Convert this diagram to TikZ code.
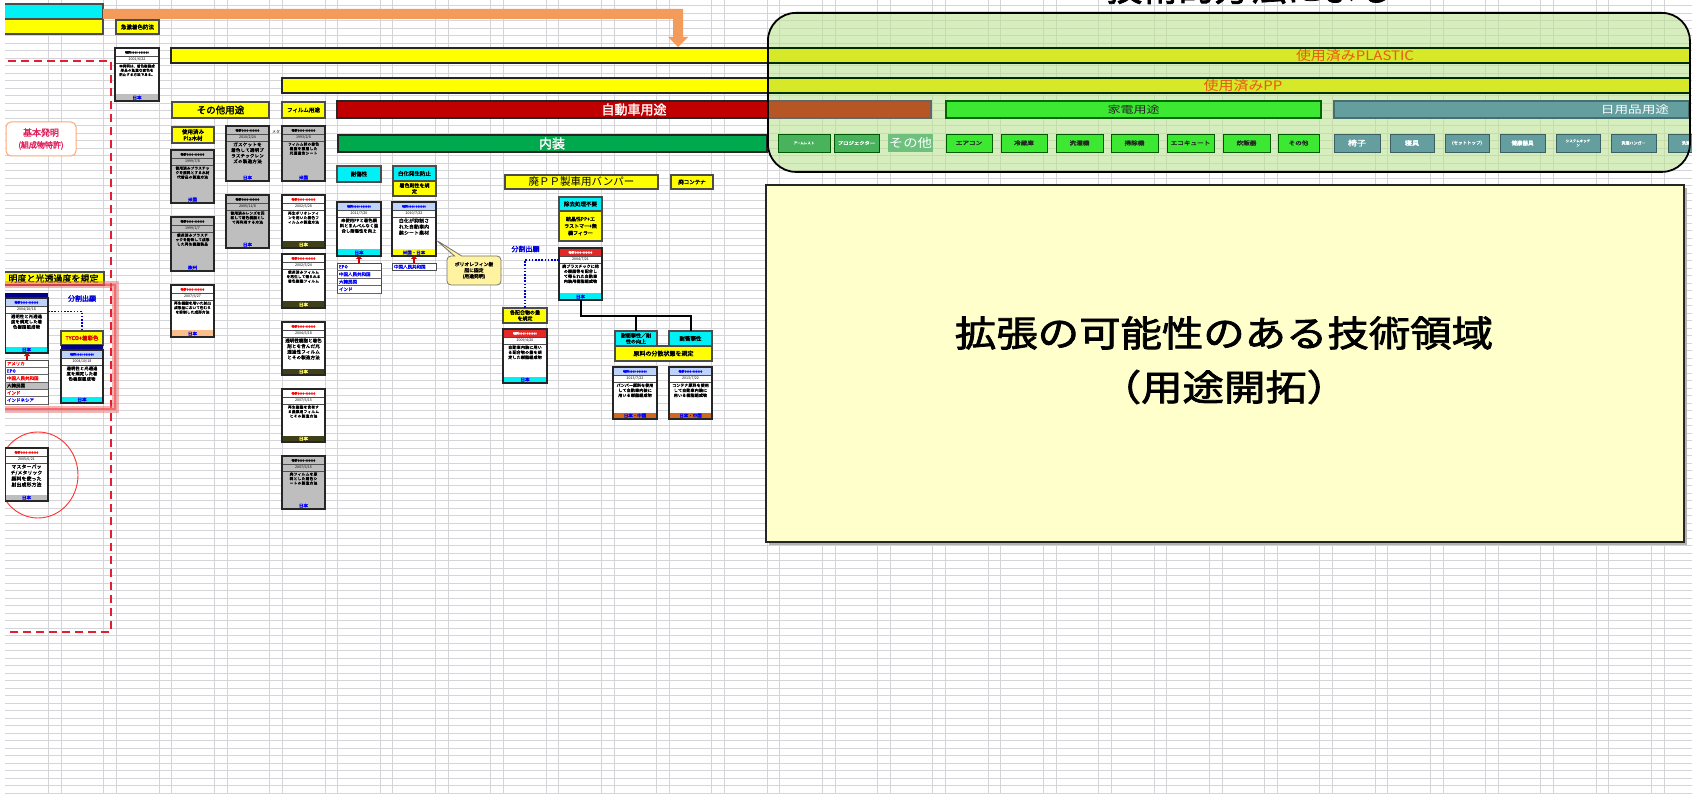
\documentclass[tikz,border=0pt]{standalone}
\usepackage{graphicx}
\usepackage{fontspec}
\setmainfont{Noto Sans CJK JP}
\newfontfamily\jpb[FakeBold=2]{Noto Sans CJK JP}
\XeTeXlinebreaklocale "ja"
\XeTeXlinebreakskip=0pt plus 0.5pt
\usetikzlibrary{calc,arrows.meta,shapes.callouts}
\newcommand\fs[2]{\fontsize{#1}{#2}\selectfont}
\newcommand\sx[2]{\scalebox{#1}[1]{#2}}
\definecolor{gridc}{RGB}{212,212,217}
\definecolor{yelc}{RGB}{255,255,0}
\definecolor{cyanc}{RGB}{0,240,245}
\definecolor{redbar}{RGB}{192,0,0}
\definecolor{grnbar}{RGB}{0,168,78}
\definecolor{orangec}{RGB}{242,155,90}
\definecolor{boxgreen}{RGB}{190,226,150}
\definecolor{brownc}{RGB}{182,86,36}
\definecolor{kaden}{RGB}{60,232,50}
\definecolor{tealc}{RGB}{100,158,158}
\definecolor{lemon}{RGB}{255,255,204}
\definecolor{navyc}{RGB}{0,0,140}
\definecolor{lbhdr}{RGB}{190,210,250}
\definecolor{grayc}{RGB}{190,190,190}
\definecolor{olivec}{RGB}{64,64,24}
\definecolor{orfoot}{RGB}{205,105,35}
\definecolor{peach}{RGB}{250,190,140}
\definecolor{crim}{RGB}{225,30,90}
\definecolor{reddash}{RGB}{228,30,50}
\definecolor{dkgreen}{RGB}{72,178,92}
\definecolor{ygreen}{RGB}{214,232,40}
\definecolor{calloutc}{RGB}{255,242,160}
\definecolor{plastxt}{RGB}{232,90,20}
\definecolor{glowc}{RGB}{235,120,120}
\definecolor{hdrred}{RGB}{228,40,40}
\tikzset{
 cardbox/.style={draw=black!85,line width=1.5pt,inner sep=0pt,outer sep=0pt},
 bxs/.style={draw=black!70,line width=1.1pt,inner sep=0pt,outer sep=0pt,anchor=north west,align=center},
 ybx/.style={bxs,fill=yelc},
 cbx/.style={bxs,fill=cyanc},
 sbx/.style={bxs,line width=0.8pt},
 bluedot/.style={draw=blue!80!black,line width=1.6pt,dash pattern=on 1.6pt off 1.6pt},
 blk/.style={draw=black,line width=2pt},
 redarr/.style={draw=red!80!black,line width=2.6pt,-{Triangle[width=6pt,length=3pt]}},
 lbl/.style={inner sep=0pt,outer sep=0pt}
}
\pgfkeys{/pc/.is family}
\pgfkeys{/pc/.cd,
 w/.store in=\pcW, h/.store in=\pcH, hdr/.store in=\pcHdr, hdrt/.store in=\pcHdrT,
 htxt/.store in=\pcHtxt, body/.store in=\pcBody, foot/.store in=\pcFoot,
 foott/.store in=\pcFootT, ftxt/.store in=\pcFtxt, date/.store in=\pcDate,
 bfs/.store in=\pcBfs}
\newcommand\pcard[4][]{%
 \pgfkeys{/pc/.cd,w=43,h=53,hdr=white,hdrt=black,htxt={特許0000-000000},body=white,foot=grayc,foott=blue,ftxt={日本},date={},bfs=3.6,#1}%
 \pgfmathsetmacro\pcTW{\pcW-4}%
 \pgfmathsetmacro\pcBl{\pcBfs*1.25}%
 \node[cardbox,fill=\pcBody,minimum width=\pcW pt,minimum height=\pcH pt,anchor=north west] (#2) at (#3) {};
 \fill[\pcHdr] ($(#2.north west)+(0.75,0.75)$) rectangle ($(#2.north east)+(-0.75,8)$);
 \node[lbl,text=\pcHdrT,font=\jpb\fs{3}{3.5}] (#2-h) at ($(#2.north)+(0,4.5)$) {\pcHtxt};
 \draw[black!70,line width=0.5pt] ($(#2.north west)+(0.75,8)$) -- ($(#2.north east)+(-0.75,8)$);
 \node[lbl,font=\fs{3.6}{4}] (#2-d) at ($(#2.north)+(0,11.7)$) {\pcDate};
 \draw[black!70,line width=0.5pt] ($(#2.north west)+(0.75,15)$) -- ($(#2.north east)+(-0.75,15)$);
 \node[lbl,anchor=north,text width=\pcTW pt,align=center,font=\jpb\fs{\pcBfs}{\pcBl}] (#2-b) at ($(#2.north)+(0,16.5)$) {#4};
 \fill[\pcFoot] ($(#2.south west)+(0.75,-6.5)$) rectangle ($(#2.south east)+(-0.75,-0.75)$);
 \node[lbl,text=\pcFootT,font=\jpb\fs{4.5}{5}] (#2-f) at ($(#2.south)+(0,-3.4)$) {\pcFtxt};
}
\newcommand\bx[7]{%
 \pgfmathsetmacro\bw{#4-#2}\pgfmathsetmacro\bh{#5-#3}%
 \node[#6,minimum width=\bw pt,minimum height=\bh pt] (#1) at (#2,#3) {#7};}
\begin{document}
\begin{tikzpicture}[x=1pt,y=-1pt]
\useasboundingbox (0,0) rectangle (1692,794);
\fill[white] (0,0) rectangle (1692,794);
\begin{scope}
\clip (5,0) rectangle (1692,794);
% grid
\foreach \k in {0,...,105} \draw[gridc,line width=0.7pt] (0,5.8+7.5*\k) -- (1692,5.8+7.5*\k);
\foreach \k in {0,...,30} {\draw[gridc,line width=0.7pt] (48.5+55.27*\k,0) -- (48.5+55.27*\k,794);
 \draw[gridc,line width=0.7pt] (61.2+55.27*\k,0) -- (61.2+55.27*\k,794);}

% title (cut at top)
\node[anchor=base,lbl,font=\jpb\fs{36}{40}] (title) at (1250,1) {技術的方法による};

% top-left bars
\bx{tlc}{-5}{4}{103}{19}{cbx}{}
\bx{tly}{-5}{19}{103}{34}{ybx}{}
% orange bent arrow
\fill[orangec] (tlc.east |- 0,9) -- (683,9) -- (683,37) -- (688,37) -- (678,47) -- (668,37) -- (673,37) -- (673,19) -- (tlc.south east) -- cycle;

% long bars (left parts)
\bx{plas}{171}{48}{1689}{63}{ybx,line width=1.5pt,draw=black!85}{}
\bx{pp}{282}{78}{1689}{93}{ybx,line width=1.5pt,draw=black!85}{}
\bx{auto}{337}{101}{931}{118}{bxs,fill=redbar,draw=black!85,line width=1.5pt}{}
\bx{nais}{338}{135}{767}{152}{bxs,fill=grnbar,draw=black!85,line width=1.5pt}{}
\node[lbl,text=white,font=\jpb\fs{13}{14}] (autot) at (634,109.5) {自動車用途};
\node[lbl,text=white,font=\jpb\fs{13}{14}] (naist) at (552,143.5) {内装};

% green rounded box (translucent)
\fill[boxgreen,opacity=0.62,rounded corners=28pt] (767,12) rectangle (1689,171);
\fill[ygreen] (767,48.8) rectangle (1689,62.2);
\draw[black!70!green!60!black,line width=1.5pt] (767,48) -- (1689,48) (767,63) -- (1689,63);
\fill[ygreen] (767,78.8) rectangle (1689,92.2);
\draw[black!70!green!60!black,line width=1.5pt] (767,78) -- (1689,78) (767,93) -- (1689,93);
\fill[brownc] (767,101.8) rectangle (930.2,117.2);
\draw[black!60,line width=1.2pt] (767,101) -| (931,118) -- (767,118);
\node[lbl,text=plastxt,font=\fs{13}{14}] (plast) at (1355,55.5) {\sx{1.15}{使用済みPLASTIC}};
\node[lbl,text=plastxt,font=\fs{13}{14}] (ppt) at (1243,85.5) {\sx{1.15}{使用済みPP}};
\bx{kad}{946}{101}{1321}{118}{bxs,fill=kaden,draw=green!40!black,font=\fs{10}{11},text=black!85}{\sx{1.3}{家電用途}}
\bx{nic}{1334}{101}{1689}{118}{bxs,fill=tealc,draw=tealc!70!black}{}
\node[lbl,text=white,font=\fs{10.5}{11}] (nict) at (1635,109.5) {\sx{1.3}{日用品用途}};
% small boxes
\bx{s1}{778}{134}{830}{152}{sbx,fill=dkgreen,draw=green!35!black,font=\jpb\fs{3.5}{4},text=white}{アームレスト}
\bx{s2}{834}{134}{879}{152}{sbx,fill=dkgreen,draw=green!35!black,font=\jpb\fs{4.5}{5},text=white}{\sx{1.2}{プロジェクター}}
\bx{s3}{888}{134}{933}{152}{bxs,fill=dkgreen!80!white,draw=none,font=\fs{12}{13},text=white}{\sx{1.2}{その他}}
\foreach \xa/\xb/\t [count=\i] in {946/992/エアコン,1001/1047/冷蔵庫,1056/1103/洗濯機,1111/1158/掃除機,1167/1214/エコキュート,1223/1270/炊飯器,1278/1319/その他}
 {\bx{k\i}{\xa}{134}{\xb}{152}{sbx,fill=kaden,draw=green!35!black,font=\jpb\fs{5.5}{6},text=black!85}{\sx{1.2}{\t}}}
\bx{t1}{1334}{134}{1380}{152}{sbx,fill=tealc,draw=tealc!60!black,font=\jpb\fs{7.5}{8},text=white}{\sx{1.2}{椅子}}
\bx{t2}{1390}{134}{1434}{152}{sbx,fill=tealc,draw=tealc!60!black,font=\jpb\fs{6}{7},text=white}{\sx{1.2}{寝具}}
\bx{t3}{1445}{134}{1489}{152}{sbx,fill=tealc,draw=tealc!60!black,font=\jpb\fs{4.5}{5},text=white}{(セットトップ)}
\bx{t4}{1500}{134}{1545}{152}{sbx,fill=tealc,draw=tealc!60!black,font=\jpb\fs{5.5}{6},text=white}{健康器具}
\bx{t5}{1556}{134}{1600}{152}{sbx,fill=tealc,draw=tealc!60!black,font=\jpb\fs{3.5}{4.2},text=white}{システムキッチ\\ン}
\bx{t6}{1611}{134}{1656}{152}{sbx,fill=tealc,draw=tealc!60!black,font=\jpb\fs{4}{5},text=white}{洗濯ハンガー}
\bx{t7}{1668}{134}{1700}{152}{sbx,fill=tealc,draw=tealc!60!black,font=\jpb\fs{4}{5},text=white}{\quad 洗濯}
\node[draw=black,line width=1.8pt,rounded corners=28pt,minimum width=922pt,minimum height=159pt,anchor=north west,inner sep=0pt] (gbox) at (767,12) {};

% big yellow box
\fill[black!30] (769,188) rectangle (1687,545);
\bx{ybig}{766}{185}{1684}{542}{bxs,fill=lemon,draw=black!85,line width=1.3pt}{}
\node[lbl,font=\jpb\fs{36}{40}] (ybigt1) at (1224,333) {\sx{1.15}{拡張の可能性のある技術領域}};
\node[lbl,font=\jpb\fs{36}{40}] (ybigt2) at (1224,387) {\sx{1.15}{（用途開拓）}};

% red dashed boundary
\draw[reddash,line width=2pt,dash pattern=on 8pt off 5pt] (-5,60.7) -- (111,60.7) -- (111,632) -- (-5,632);

% left column
\bx{kihon}{6}{122}{76}{156}{bxs,fill=white,draw=orange!40!pink,line width=1pt,rounded corners=5pt,font=\jpb\fs{9}{11},text=crim}{基本発明\\[1pt]{\fs{8}{9}(組成物特許)}}
\bx{meido}{-5}{272}{104}{285}{ybx,font=\jpb\fs{9}{10}}{\hspace*{8pt}明度と光透過度を規定}
\draw[glowc,line width=7pt,opacity=0.55] (-10,285) rectangle (115,409);
\draw[red!70!glowc,line width=1.5pt,opacity=0.5] (-10,285) rectangle (115,409);
\node[lbl,text=blue!85!black,font=\jpb\fs{7}{8}] (bun1) at (82,298.5) {分割出願};
\fill[navyc] (5,293) rectangle (48,298);
\pcard[w=43,h=55,hdr=lbhdr,hdrt=blue,date={2004/10/18},foot=cyanc,bfs=4.2]{cL1}{5,298}{透明性と光透過度を規定した着色樹脂組成物}
\bx{tyco}{61}{331}{103}{345}{ybx,font=\jpb\fs{5.5}{6},text=red!85!black}{TYCO+着彩色}
\fill[navyc] (61,345) rectangle (103,350);
\pcard[w=42,h=53,hdr=lbhdr,hdrt=blue,date={2004/10/18},foot=cyanc,bfs=4.2]{cL2}{61,350}{透明性と光透過度を規定した着色樹脂組成物}
\draw[bluedot] ($(cL1.north east)+(0,13.5)$) -| (tyco.north);
% country list 1
\node[draw=black!70,line width=0.8pt,fill=white,minimum width=43pt,minimum height=44pt,anchor=north west,inner sep=0pt] (L1) at (5,360) {};
\fill[grayc] (5.5,381.9) rectangle (47.5,389.2);
\foreach \t/\c [count=\i from 0] in {アメリカ/red,EPO/blue,中国人民共和国/red,大韓民国/black,インド/red,インドネシア/blue}
 {\node[lbl,anchor=west,text=\c,font=\jpb\fs{4.5}{5}] (L1-\i) at (7,363.7+7.3*\i) {\t};
  \draw[black!60,line width=0.5pt] (5,367.3+7.3*\i) -- (48,367.3+7.3*\i);}
\draw[redarr] ($(L1.north west)+(22,0)$) -- ($(cL1.south west)+(22,0)$);
% circle card
\draw[red!75!pink,line width=0.9pt] (38,475) ellipse [x radius=40, y radius=43];
\pcard[w=43,h=53,hdrt=red,date={2005/6/21},bfs=4.8]{cC}{5,448}{マスターバッチ/メタリック顔料を使った射出成形方法}

% top card column
\bx{kyu}{116}{20}{159}{34}{ybx,font=\jpb\fs{5.5}{6}}{急激着色防法}
\pcard[w=44,h=53,date={2001/6/22},bfs=3.4]{cA}{115,48}{本発明は、着色樹脂成形品の急激な変色を防止する方法である。}

% その他用途 / フィルム用途
\bx{sono}{172}{102}{269}{118}{ybx,font=\jpb\fs{9.5}{10}}{その他用途}
\bx{film}{282}{102}{325}{118}{ybx,font=\jpb\fs{5.5}{6}}{フィルム用途}
\bx{mokuz}{172}{127}{214}{143}{ybx,font=\jpb\fs{5.5}{6.5}}{使用済み\\Pla木材}
\pcard[hdr=grayc,body=grayc,date={1999/7/8},ftxt={米国}]{c11}{171,150}{使用済みプラスチックを原料とする木材代替品の製造方法}
\pcard[h=54,hdr=grayc,body=grayc,date={1999/1/7},ftxt={欧州}]{c12}{171,217}{使用済みプラスチックを粉砕して成形した再生樹脂製品}
\pcard[h=52,hdrt=red,date={2007/6/27},foot=peach]{c13}{171,285}{再生樹脂を用いた射出成形品において色むらを抑制した成形方法}
\pcard[h=55,hdr=grayc,body=grayc,date={2010/2/24},bfs=4.5]{c21}{226,126}{ガスケットを着色して透明プラスチックレンズの製造方法}
\pcard[hdr=grayc,body=grayc,date={2005/11/8}]{c22}{226,195}{使用済みレンズを回収して着色樹脂として再利用する方法}
\node[lbl,font=\fs{4}{5}] (meta) at (276,132) {メタ};
\pcard[h=55,hdr=grayc,body=grayc,date={1993/2/8},ftxt={米国}]{c31}{282,126}{フィルム状の着色樹脂を積層した光透過性シート}
\pcard[hdrt=red,date={2002/6/28},foot=olivec,foott=yellow!60!white]{c32}{282,195}{再生ポリオレフィンを用いた着色フィルムの製造方法}
\pcard[h=54,hdrt=red,date={2002/5/24},foot=olivec,foott=yellow!60!white]{c33}{282,254}{使用済みフィルムを再生して得られる着色樹脂フィルム}
\pcard[hdrt=red,date={2004/6/18},foot=olivec,foott=yellow!60!white,bfs=4.5]{c34}{282,322}{透明性樹脂と着色剤とを含んだ光透過性フィルムとその製造方法}
\pcard[hdrt=red,date={2007/6/15},foot=olivec,foott=yellow!60!white]{c35}{282,389}{再生樹脂を含有する農業用フィルムとその製造方法}
\pcard[hdr=grayc,body=grayc,date={2007/6/15}]{c36}{282,456}{廃フィルムを原料とした着色シートの製造方法}

% 耐傷性 / 白化
\bx{taisho}{337}{166}{381}{182}{cbx,font=\jpb\fs{5.5}{6}}{耐傷性}
\bx{hakka}{393}{166}{436}{181}{cbx,font=\jpb\fs{5.5}{6}}{白化発生防止}
\bx{chaku}{393}{181}{436}{196}{ybx,font=\jpb\fs{5}{6}}{着色剤性を規\\定}
\pcard[w=44,h=54,hdr=lbhdr,hdrt=blue,date={2011/7/20},foot=cyanc,bfs=4.2]{cT}{337,202}{未使用PPと着色顔料とまんべんなく混合し耐傷性を向上}
\pcard[w=44,h=54,hdr=lbhdr,hdrt=blue,date={2010/7/22},foot=yelc,ftxt={米国・日本},bfs=4.8]{cW}{392,202}{白化が抑制された自動車内装シート素材}
\node[draw=black!70,line width=0.8pt,fill=white,minimum width=44pt,minimum height=30pt,anchor=north west,inner sep=0pt] (L2) at (337,263) {};
\foreach \t [count=\i from 0] in {EPO,中国人民共和国,大韓民国,インド}
 {\node[lbl,anchor=west,text=blue,font=\jpb\fs{4.5}{5}] (L2-\i) at (339,266.8+7.5*\i) {\t};
  \draw[black!60,line width=0.5pt] (337,270.5+7.5*\i) -- (381,270.5+7.5*\i);}
\node[draw=black!70,line width=0.8pt,fill=white,minimum width=44pt,minimum height=7.5pt,anchor=north west,inner sep=0pt] (L3) at (392,263) {};
\node[lbl,anchor=west,text=blue,font=\jpb\fs{4.5}{5}] (L3-0) at (394,266.8) {中国人民共和国};
\draw[redarr] (L2.north -| cT.south) -- (cT.south);
\draw[redarr] (L3.north -| cW.south) -- (cW.south);
\node[rectangle callout,draw=black!55,line width=0.8pt,fill=calloutc,rounded corners=4pt,
 minimum width=54pt,minimum height=29pt,inner sep=1pt,align=center,font=\jpb\fs{4.8}{6},
 callout absolute pointer={($(cW.south east)+(0,-16)$)}] (callo) at (474,270.5)
 {ポリオレフィン樹\\脂に固定\\(用途発明)};

% bumper section
\bx{bumper}{505}{175}{658}{189}{ybx,font=\fs{10.5}{11}}{廃ＰＰ製車用バンパー}
\bx{cont}{671}{175}{713}{189}{ybx,font=\jpb\fs{5.5}{6}}{廃コンテナ}
\bx{jokyo}{559}{197}{602}{211}{cbx,font=\jpb\fs{5.5}{6}}{除去処理不要}
\bx{kessho}{559}{211}{602}{241}{ybx,font=\jpb\fs{5}{7}}{結晶性PP+エ\\ラストマー+無\\機フィラー}
\pcard[h=52,hdr=hdrred,hdrt=white,date={2004/7/21},foot=cyanc,bfs=4]{cB1}{559,248}{廃プラスチックに他の樹脂等を配合して得られた自動車内装用樹脂組成物}
\node[lbl,text=blue!85!black,font=\jpb\fs{7}{8}] (bun2) at (525.5,249) {分割出願};
\bx{haigo}{503}{308}{547}{323}{ybx,font=\jpb\fs{5}{6}}{各配合物の量\\を規定}
\draw[bluedot] ($(cB1.north west)+(0,12)$) -| (haigo.north);
\pcard[w=44,h=54,hdr=hdrred,hdrt=white,date={2009/4/20},foot=cyanc,bfs=4]{cB2}{503,329}{自動車内装に用いる配合物の量を規定した樹脂組成物}
\bx{n1}{615}{331}{657}{346}{cbx,font=\jpb\fs{5}{6}}{耐衝撃性／剛\\性の向上}
\bx{n2}{669}{331}{712}{346}{cbx,font=\jpb\fs{5.5}{6}}{耐衝撃性}
\bx{bunsan}{615}{346}{712}{361}{ybx,font=\jpb\fs{6}{7}}{原料の分散状態を規定}
\draw[blk] (cB1.south) -- ++(0,16) coordinate (j1) -| (n2.north);
\draw[blk] (j1 -| n1.north) -- (n1.north);
\pcard[w=44,h=52,hdr=lbhdr,hdrt=blue,date={2013/7/22},foot=orfoot,ftxt={日本・中国},bfs=4]{cB3}{613,367}{バンパー原料を使用して自動車内装に用いる樹脂組成物}
\pcard[w=43,h=52,hdr=lbhdr,hdrt=blue,date={2013/7/22},foot=orfoot,ftxt={日本・中国},bfs=4]{cB4}{669,367}{コンテナ原料を使用して自動車内装に用いる樹脂組成物}
\end{scope}
\end{tikzpicture}
\end{document}
